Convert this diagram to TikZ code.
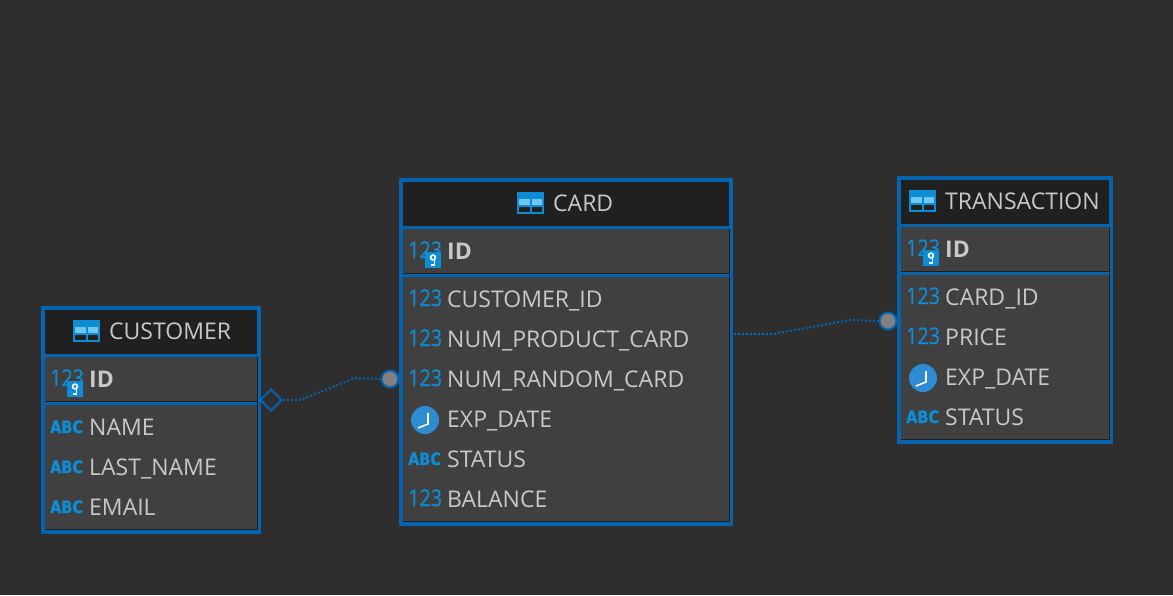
\documentclass[tikz,border=0pt]{standalone}
\usepackage{fontspec}
\usetikzlibrary{shapes.geometric}
\setmainfont{Open Sans}
\newfontfamily\abcfont[FakeStretch=0.85,FakeBold=1.5]{DejaVu Sans}
\newfontfamily\numfont[FakeStretch=0.86,FakeBold=0.4]{Open Sans}
\definecolor{canvasgray}{HTML}{2E2E2E}
\definecolor{bodygray}{HTML}{404040}
\definecolor{headblack}{HTML}{202020}
\definecolor{edgeblue}{HTML}{0663AD}
\definecolor{iconblue}{HTML}{0E8CD6}
\definecolor{lightblue}{HTML}{6FC8F0}
\definecolor{clockblue}{HTML}{2E8CD2}
\definecolor{textgray}{HTML}{C8C8C8}
\definecolor{dotgray}{HTML}{808080}
\definecolor{seamgray}{HTML}{1E1E1E}
\tikzset{
  x=1pt, y=-1pt,
  tablebox/.style={draw=edgeblue, line width=4pt, fill=bodygray, rectangle, inner sep=0pt, outer sep=0pt, anchor=north west},
  headbox/.style={fill=headblack, rectangle, inner sep=0pt, outer sep=0pt, anchor=north west},
  rowline/.style={draw=edgeblue, line width=3pt},
  seamline/.style={draw=seamgray, line width=1pt},
  coltext/.style={text=textgray, font=\fontsize{23}{24}\selectfont, anchor=base west, inner sep=0pt},
  keytext/.style={coltext, font=\fontsize{23}{24}\selectfont\bfseries},
  numicon/.style={text=iconblue, font=\numfont\fontsize{23}{24}\selectfont, anchor=base west, inner sep=0pt},
  abcicon/.style={text=iconblue, font=\abcfont\fontsize{17}{18}\selectfont\bfseries, anchor=base west, inner sep=0pt},
  relline/.style={draw=edgeblue, line width=2pt, dash pattern=on 2pt off 2pt},
  relcircle/.style={circle, draw=edgeblue, fill=dotgray, line width=2pt, minimum size=17pt, inner sep=0pt},
  reldiamond/.style={diamond, draw=edgeblue, fill=canvasgray, line width=2pt, minimum size=22pt, inner sep=0pt},
  tableicon/.pic={
    \fill[iconblue] (0,0) rectangle (27,22);
    \fill[lightblue] (2,6.5) rectangle (13,12.5);
    \fill[lightblue] (15,6.5) rectangle (25,12.5);
    \fill[headblack] (2,14.5) rectangle (13,20);
    \fill[headblack] (15,14.5) rectangle (25,20);
  },
  keyicon/.pic={
    \fill[iconblue] (0,0) rectangle (16,16);
    \draw[white, line width=1.6pt] (8,5.5) circle (2.4pt);
    \draw[white, line width=1.6pt] (9.5,8) -- (9.5,13) -- (6,13);
  },
  clockicon/.pic={
    \fill[clockblue] (0,0) circle (14pt);
    \draw[white, line width=1.6pt] (3,-7) -- (3,4) -- (-7,8);
  }
}
\begin{document}
\begin{tikzpicture}
  % Canvas
  \fill[canvasgray] (0,0) rectangle (1173,595);
  \useasboundingbox (0,0) rectangle (1173,595);

  % CUSTOMER table
  \node[tablebox, minimum width=216pt, minimum height=224pt] (customer) at (43,308) {};
  \node[headbox, minimum width=212pt, minimum height=44pt] (customerhead) at (45,310) {};
  \draw[seamline] (45,401) -- (257,401);
  \draw[seamline] (257,357) -- (257,529.5) -- (45,529.5);
  \draw[rowline] (45,355) -- (257,355);
  \draw[rowline] (45,403) -- (257,403);
  \pic at (73,320) {tableicon};
  \node[coltext] (customertitle) at (109,339) {CUSTOMER};
  \node[numicon] (customerkeynum) at (50,386) {123};
  \pic at (67,381) {keyicon};
  \node[keytext] (customerid) at (89,387) {ID};
  \node[abcicon] (customerabca) at (50,433) {ABC};
  \node[coltext] (customername) at (89,435) {NAME};
  \node[abcicon] (customerabcb) at (50,473) {ABC};
  \node[coltext] (customerlast) at (89,475) {LAST\_NAME};
  \node[abcicon] (customerabcc) at (50,513) {ABC};
  \node[coltext] (customeremail) at (89,515) {EMAIL};

  % CARD table
  \node[tablebox, minimum width=330pt, minimum height=344pt] (card) at (401,180) {};
  \node[headbox, minimum width=326pt, minimum height=44pt] (cardhead) at (403,182) {};
  \draw[seamline] (403,273) -- (729,273);
  \draw[seamline] (729,229) -- (729,521.5) -- (403,521.5);
  \draw[rowline] (403,227) -- (729,227);
  \draw[rowline] (403,275) -- (729,275);
  \pic at (517,192) {tableicon};
  \node[coltext] (cardtitle) at (553,211) {CARD};
  \node[numicon] (cardkeynum) at (408,258) {123};
  \pic at (425,252) {keyicon};
  \node[keytext] (cardid) at (447,259) {ID};
  \node[numicon] (cardnuma) at (408,306) {123};
  \node[coltext] (cardcustomer) at (447,307) {CUSTOMER\_ID};
  \node[numicon] (cardnumb) at (408,346) {123};
  \node[coltext] (cardproduct) at (447,347) {NUM\_PRODUCT\_CARD};
  \node[numicon] (cardnumc) at (408,386) {123};
  \node[coltext] (cardrandom) at (447,387) {NUM\_RANDOM\_CARD};
  \pic at (425,420) {clockicon};
  \node[coltext] (carddate) at (447,427) {EXP\_DATE};
  \node[abcicon] (cardabc) at (408,465) {ABC};
  \node[coltext] (cardstatus) at (447,467) {STATUS};
  \node[numicon] (cardnumd) at (408,506) {123};
  \node[coltext] (cardbalance) at (447,507) {BALANCE};

  % TRANSACTION table
  \node[tablebox, minimum width=212pt, minimum height=264pt] (transaction) at (899,178) {};
  \node[headbox, minimum width=208pt, minimum height=44pt] (transactionhead) at (901,180) {};
  \draw[seamline] (901,271) -- (1109,271);
  \draw[seamline] (1109,227) -- (1109,439.5) -- (901,439.5);
  \draw[rowline] (901,225) -- (1109,225);
  \draw[rowline] (901,273) -- (1109,273);
  \pic at (909,190) {tableicon};
  \node[coltext] (transactiontitle) at (945,209) {TRANSACTION};
  \node[numicon] (transactionkeynum) at (906,256) {123};
  \pic at (923,250) {keyicon};
  \node[keytext] (transactionid) at (945,257) {ID};
  \node[numicon] (transactionnuma) at (906,304) {123};
  \node[coltext] (transactioncard) at (945,305) {CARD\_ID};
  \node[numicon] (transactionnumb) at (906,344) {123};
  \node[coltext] (transactionprice) at (945,345) {PRICE};
  \pic at (923,378) {clockicon};
  \node[coltext] (transactiondate) at (945,385) {EXP\_DATE};
  \node[abcicon] (transactionabc) at (906,423) {ABC};
  \node[coltext] (transactionstatus) at (945,425) {STATUS};

  % Relations
  \node[reldiamond] (customerend) at (271,400) {};
  \node[relcircle] (cardend) at (390,379) {};
  \node[relcircle] (transactionend) at (888,321) {};
  \coordinate (cardexit) at (734,334);
  \draw[relline] (customerend.east) -- (300,400) -- (355,378) -- (cardend.west);
  \draw[relline] (cardexit) -- (773,334) -- (850,320) -- (transactionend.west);
\end{tikzpicture}
\end{document}
